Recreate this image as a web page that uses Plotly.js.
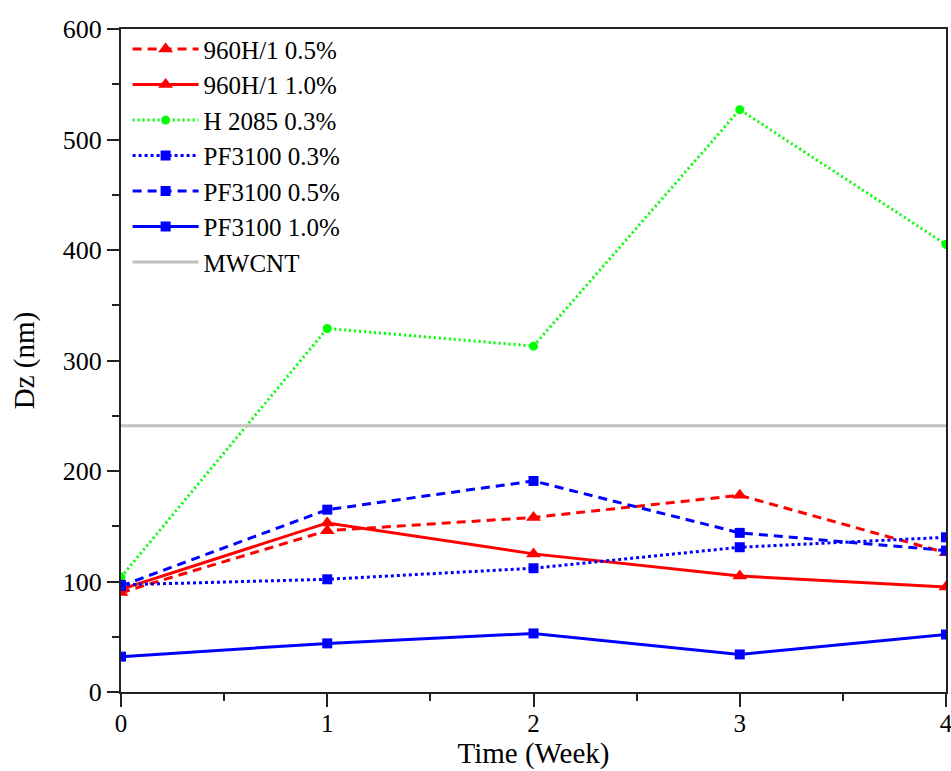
<!DOCTYPE html>
<html>
<head>
<meta charset="utf-8">
<script src="https://cdn.plot.ly/plotly-3.0.1.min.js"></script>
<style>html,body{margin:0;padding:0;background:#fff;}#chart{width:951px;height:771px;}</style>
</head>
<body>
<div id="chart"></div>
<script>
const weeks = [0, 1, 2, 3, 4];
const seriesNames = ["960H/1 0.5%", "960H/1 1.0%", "H 2085 0.3%", "PF3100 0.3%", "PF3100 0.5%", "PF3100 1.0%", "MWCNT"];
const h960_05 = [90, 146, 158, 178, 126];
const h960_10 = [93, 153, 125, 105, 95];
const h2085_03 = [104, 329, 313, 527, 405];
const pf3100_03 = [97, 102, 112, 131, 140];
const pf3100_05 = [96, 165, 191, 144, 128];
const pf3100_10 = [32, 44, 53, 34, 52];
const mwcnt = [241, 241, 241, 241, 241];

const RED = '#ff0000', GREEN = '#00ff00', BLUE = '#0000ff', GRAY = '#c0c0c0';

function tr(name, y, color, dash, symbol, size, width) {
  const t = {
    x: weeks, y: y, name: name, type: 'scatter',
    mode: symbol ? 'lines+markers' : 'lines',
    line: {color: color, width: width, dash: dash}
  };
  if (symbol) t.marker = {color: color, symbol: symbol, size: size};
  return t;
}

const data = [
  tr(seriesNames[0], h960_05, RED, '9px,6px', 'triangle-up', 13, 3),
  tr(seriesNames[1], h960_10, RED, 'solid', 'triangle-up', 13, 3),
  tr(seriesNames[2], h2085_03, GREEN, '2px,3px', 'circle', 9, 3),
  tr(seriesNames[3], pf3100_03, BLUE, '3px,3px', 'square', 10, 3),
  tr(seriesNames[4], pf3100_05, BLUE, '9px,6px', 'square', 10, 3),
  tr(seriesNames[5], pf3100_10, BLUE, 'solid', 'square', 10, 3),
  tr(seriesNames[6], mwcnt, GRAY, 'solid', null, 0, 3)
];

const FONT = 'Liberation Serif';

const layout = {
  width: 951, height: 771,
  margin: {l: 121, r: 5, t: 29, b: 79},
  paper_bgcolor: '#ffffff', plot_bgcolor: '#ffffff',
  font: {family: FONT, color: '#000', size: 26},
  showlegend: true,
  legend: {
    x: 0.008, y: 1.004, xanchor: 'left', yanchor: 'top',
    bgcolor: 'rgba(0,0,0,0)', borderwidth: 0,
    font: {family: FONT, size: 25, color: '#000'},
    itemwidth: 66, tracegroupgap: 0
  },
  xaxis: {
    range: [0, 4], dtick: 1, tick0: 0,
    showgrid: false, zeroline: false,
    showline: true, linecolor: '#222', linewidth: 2, mirror: true,
    ticks: 'outside', ticklen: 13, tickwidth: 2, tickcolor: '#222',
    minor: {dtick: 0.5, ticks: 'outside', ticklen: 7, tickwidth: 2, tickcolor: '#222'},
    tickfont: {family: FONT, size: 25},
    ticklabeloverflow: 'allow', ticklabelstandoff: -5,
    title: {text: 'Time (Week)', font: {family: FONT, size: 29}, standoff: 7}
  },
  yaxis: {
    range: [0, 600], dtick: 100, tick0: 0,
    showgrid: false, zeroline: false,
    showline: true, linecolor: '#222', linewidth: 2, mirror: true,
    ticks: 'outside', ticklen: 12, tickwidth: 2, tickcolor: '#222',
    minor: {dtick: 50, ticks: 'outside', ticklen: 7, tickwidth: 2, tickcolor: '#222'},
    tickfont: {family: FONT, size: 26},
    title: {text: 'Dz (nm)', font: {family: FONT, size: 29}, standoff: 20}
  }
};

Plotly.newPlot('chart', data, layout, {displayModeBar: false, staticPlot: true});
</script>
</body>
</html>
